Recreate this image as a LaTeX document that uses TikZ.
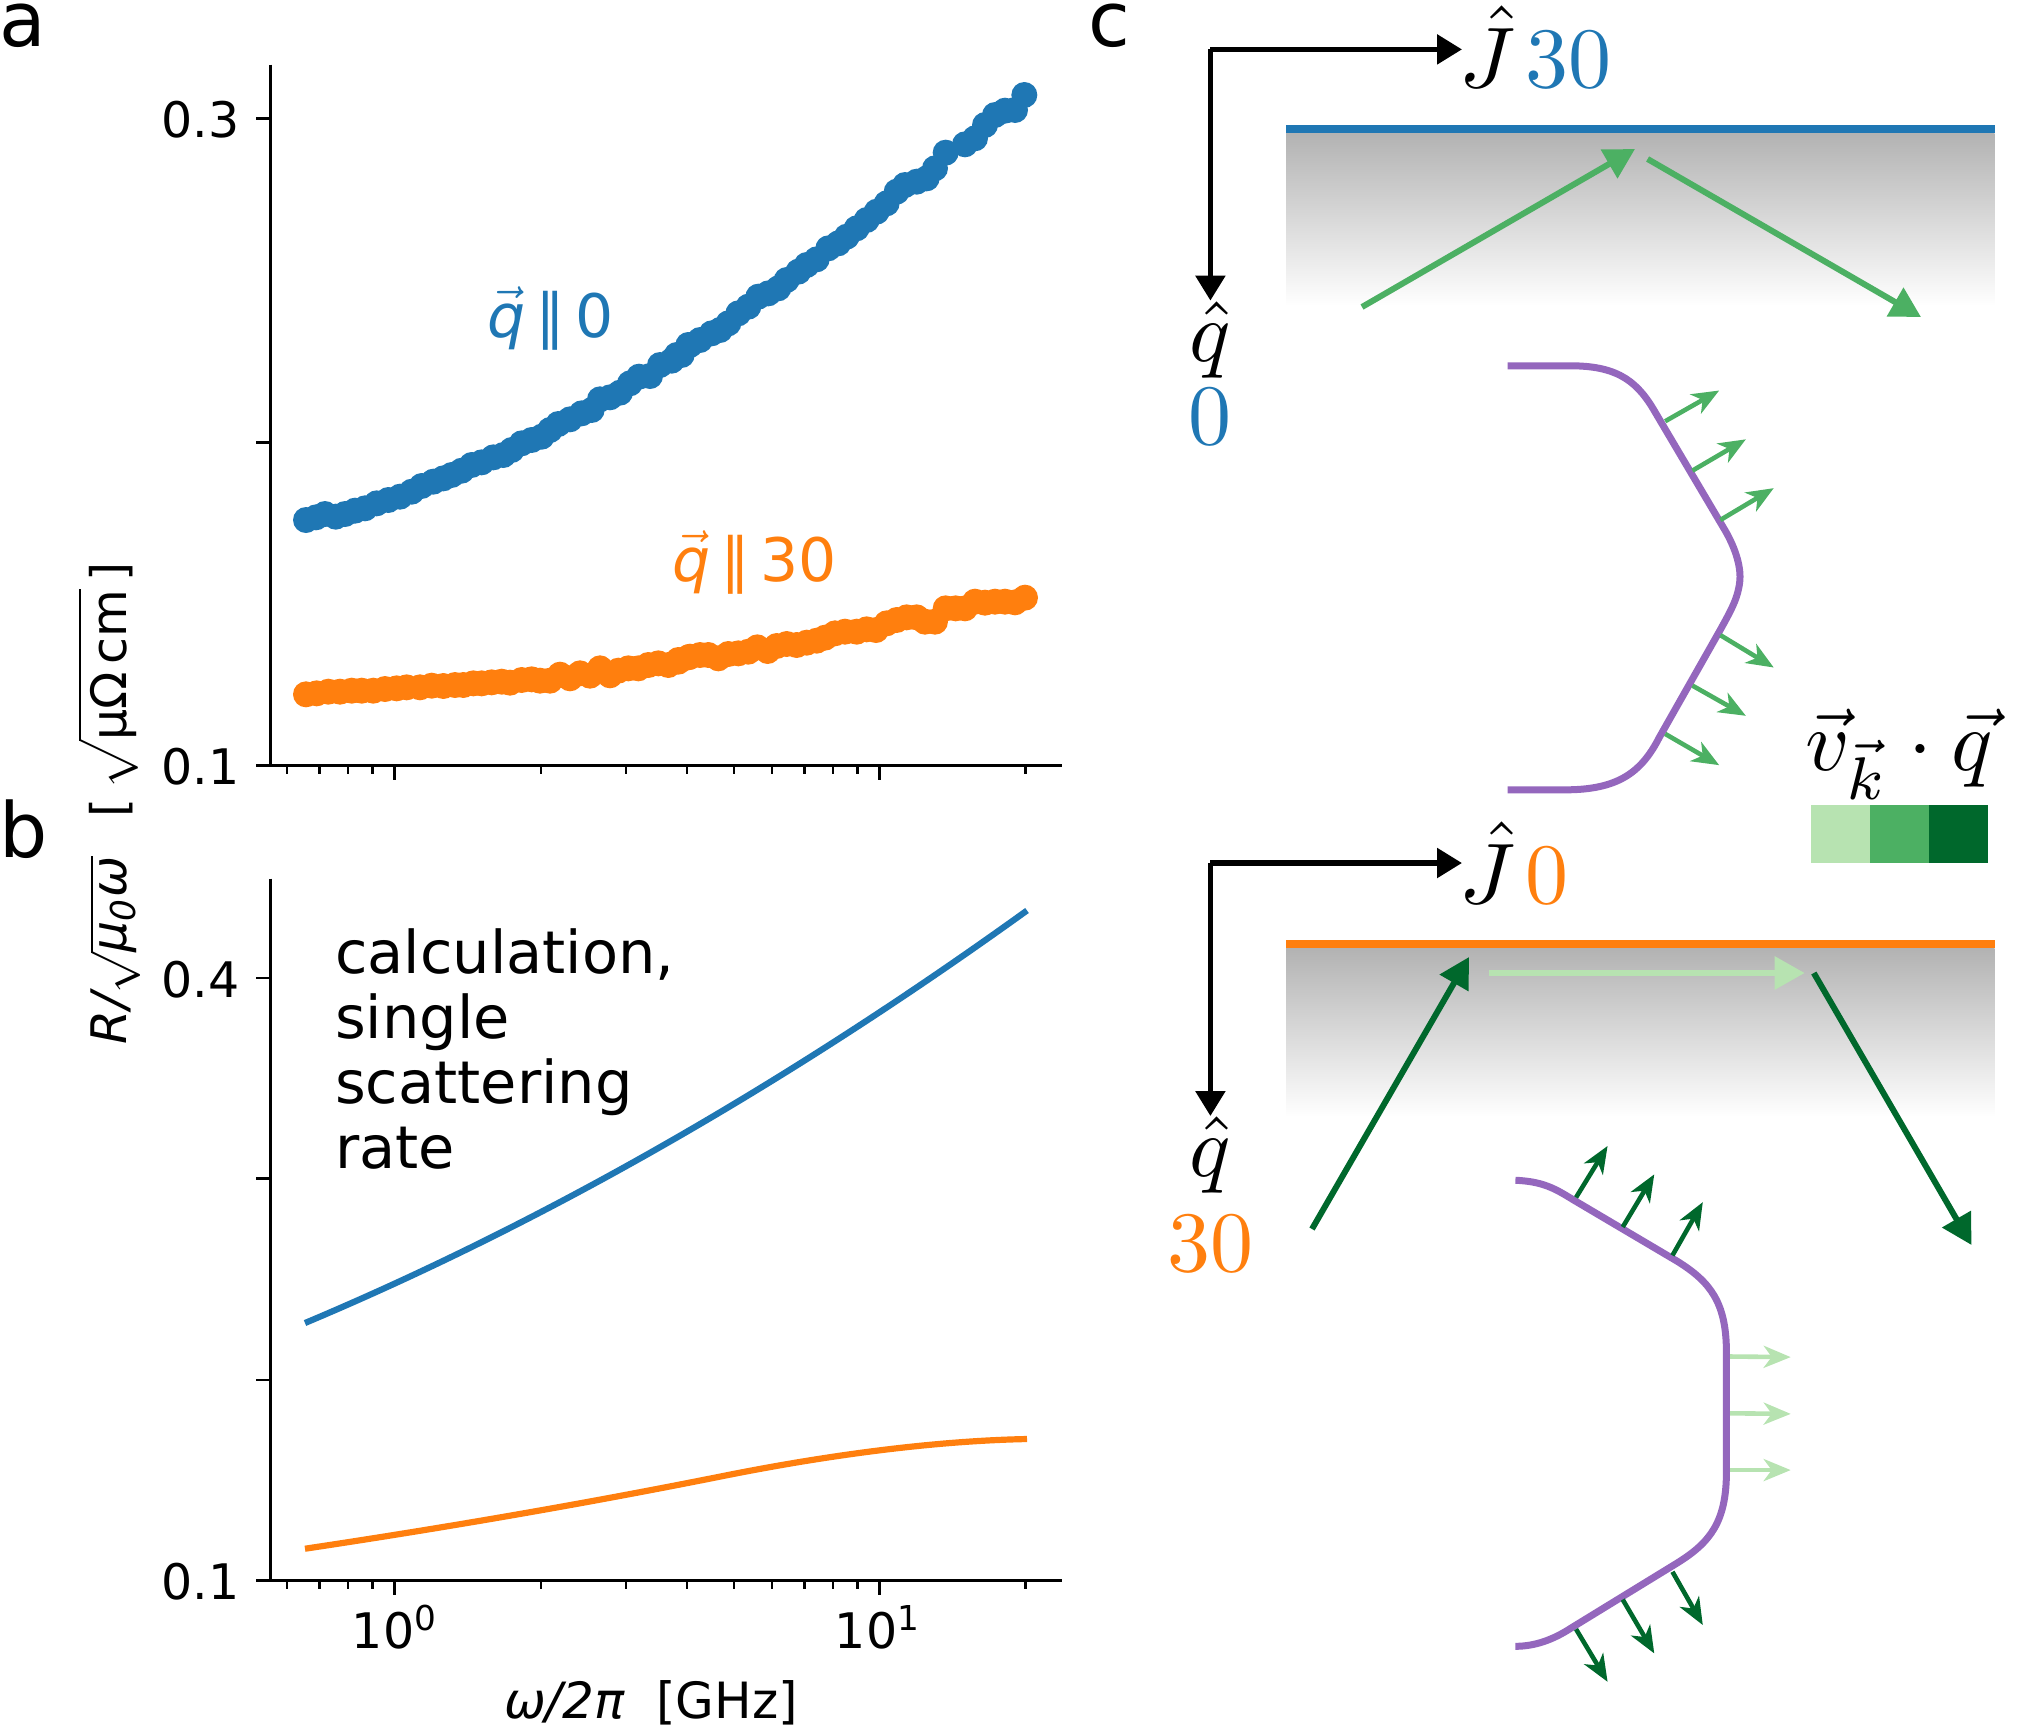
\documentclass[tikz,border=0pt]{standalone}
\usepackage[no-math]{fontspec}
\setmainfont{DejaVu Sans}
\usetikzlibrary{arrows.meta}
\definecolor{cblue}{HTML}{1F77B4}
\definecolor{corange}{HTML}{FF7F0E}
\definecolor{cpurple}{HTML}{9467BD}
\definecolor{glight}{HTML}{B7E3B1}
\definecolor{gmid}{HTML}{4CB063}
\definecolor{gdark}{HTML}{00682C}
\tikzset{
  axisline/.style={line width=2.8pt,black},
  tl/.style={inner sep=0pt,scale=4.9,font=\fontsize{10}{12}\selectfont},
  tlr/.style={tl,anchor=base east},
  panellabel/.style={inner sep=0pt,scale=7.6,anchor=base west,font=\fontsize{10}{12}\selectfont},
  cmtext/.style={inner sep=0pt,scale=8.6,font=\fontsize{10}{12}\selectfont},
  bigl/.style={inner sep=0pt,scale=5.9,font=\fontsize{10}{11.05}\selectfont},
  frameaxis/.style={line width=5.5pt,black,-{Triangle[length=25pt,width=29pt]}},
  bigarrow/.style={line width=6pt,-{Triangle[length=30pt,width=32pt]}},
  smallarrow/.style={line width=4.6pt,-{Stealth[length=27pt,width=22pt,inset=8pt]}},
  fermi/.style={line width=7pt,cpurple,line join=round},
  curveline/.style={line width=6.2pt},
}
\newcommand{\supdig}[1]{\raisebox{3.6pt}{\fontsize{7}{7}\selectfont #1}}
\begin{document}
\begin{tikzpicture}[x=1pt,y=-1pt]
\useasboundingbox (0,0) rectangle (2031,1727);

% panel letters
\node[panellabel] (la) at (-2,46.6) {a};
\node[panellabel] (lb) at (-2,857) {b};
\node[panellabel] (lc) at (1087,46.6) {c};

% axes a
\draw[axisline] (270.6,64.7) -- (270.6,765.8) -- (1062,765.8);
\foreach \yy in {118.5,442.7,765.8} \draw[axisline] (256,\yy) -- (270.6,\yy);
% axes b
\draw[axisline] (270.6,878.6) -- (270.6,1580.6) -- (1062,1580.6);
\foreach \yy in {978,1178.5,1380,1580.6} \draw[axisline] (256,\yy) -- (270.6,\yy);
\foreach \yb in {765.8,1580.6}{
  \foreach \xx in {394.6,879.5} \draw[axisline] (\xx,\yb) -- (\xx,\yb+14);
  \foreach \xx in {287,319.5,347.6,372.4,540.6,626,686.6,733.6,772,804.5,832.6,857.4,1025.5}
    \draw[line width=2.2pt] (\xx,\yb) -- (\xx,\yb+8);
}
\node[tlr] (t03) at (240.5,137) {0.3};
\node[tlr] (t01a) at (240.5,784) {0.1};
\node[tlr] (t04) at (240.5,997) {0.4};
\node[tlr] (t01b) at (240.5,1599.5) {0.1};
\node[tl,anchor=base] (x0) at (394,1648.6) {10\supdig{0}};
\node[tl,anchor=base] (x1) at (877,1648.6) {10\supdig{1}};
\node[tl,anchor=base,scale=1.02] (xl) at (651,1718) {{\itshape ω/2π}\ \ [GHz]};
\node[tl,anchor=base west,rotate=90] (yl1) at (126.5,1045) {{\itshape R/}$\sqrt{\mbox{\itshape μ\textsubscript{0}ω}}$};
\node[tl,anchor=base west,rotate=90] (yl2) at (126.5,818) {[\,$\sqrt{\rule{0pt}{8.5pt}\mbox{μΩ\,cm}}$\,]};

% data a
\foreach \a/\b in {48/600,78/592,105/582,137/590,165/582,195/572,225/565,260/550,295/540,330/530,365/515,395/498,430/485,460/475,485/465,515/452,545/435,575/427,610/412,640/405,665/390,695/370,725/360,755/350,780/330,805/312,840/298,875/280,905/270,930/238,960/232,990/218,1020/190,1047/170,1080/168,1110/135,1145/122,1175/105,1200/75}
  \fill[cblue] (290+\a/3,320+\b/3) circle (13);
\foreach \a/\b in {20/855,55/825,90/810,125/790,150/780,175/760,205/730,235/710,265/680,295/670,325/655,350/630,385/605,410/585,440/568,475/535,505/520,530/500,560/475,590/450,620/425,650/400,680/365,705/345,740/335,770/325,795/295,827/248,885/223,915/205,945/165,975/135,1005/122,1035/120,1063/75}
  \fill[cblue] (670+\a/3,70+\b/3) circle (13);
\foreach \a/\b in {48/283,80/280,115/275,150/275,185/272,215/272,250/272,285/267,320/265,350/262,390/262,425/257,460/258,495/255,520/255,550/250,575/250,605/247,635/245,660/248,695/240,725/238,750/242,780/242,810/224,840/235,870/220,900/227,930/205,960/226,985/212,1015/205,1045/205,1075/195,1105/190,1135/195,1165/180,1200/170}
  \fill[corange] (290+\a/3,600+\b/3) circle (13);
\foreach \a/\b in {25/275,55/262,90/255,115/255,145/265,175/252,205/250,235/245,262/232,293/243,320/228,350/222,380/225,410/218,440/212,465/203,495/190,525/185,560/185,590/178,618/180,650/160,680/150,710/142,740/142,765/155,795/155,827/115,857/115,885/115,915/95,945/98,975/95,1005/95,1035/97,1065/83}
  \fill[corange] (670+\a/3,570+\b/3) circle (13);
\node[inner sep=0pt,scale=6,font=\fontsize{10}{12}\selectfont,text=cblue,anchor=base west] (qb) at (486,337) {$\vec{\mbox{\itshape q}}$\,∥\,0};
\node[inner sep=0pt,scale=6,font=\fontsize{10}{12}\selectfont,text=corange,anchor=base west] (qo) at (671,581) {$\vec{\mbox{\itshape q}}$\,∥\,30};

% data b
\draw[cblue,curveline] (305,1323) .. controls (545,1222) and (786,1084) .. (1027,910.5);
\draw[corange,curveline] (305,1548.7) .. controls (445,1527.7) and (583,1504) .. (723,1476) .. controls (823,1456) and (930,1441) .. (1027,1439);
\node[bigl,align=left,anchor=north west] (calc) at (334,927) {calculation,\\single\\scattering\\rate};

% panel c, top
\coordinate (c1) at (1210.4,49.4);
\coordinate (c1j) at (1462,49.4);
\coordinate (c1q) at (1210.4,300.6);
\draw[frameaxis] (c1) -- (c1j);
\draw[frameaxis] (c1) -- (c1q);
\node[cmtext,anchor=base west] (J1) at (1458,87) {$\hat J$};
\node[cmtext,anchor=base west,text=cblue] (n30a) at (1524,87.8) {$\mathrm{30}$};
\node[cmtext,anchor=base] (q1) at (1210,361) {$\hat q$};
\node[cmtext,anchor=base,text=cblue] (n0a) at (1210,444) {$\mathrm{0}$};
\shade[top color=black!30,bottom color=white] (1286,133) rectangle (1994.5,306);
\fill[cblue] (1286,125) rectangle (1994.5,133);
\coordinate (a1s) at (1362,307); \coordinate (a1e) at (1635,149);
\coordinate (a2s) at (1647.6,159); \coordinate (a2e) at (1921,317);
\draw[gmid,bigarrow] (a1s) -- (a1e);
\draw[gmid,bigarrow] (a2s) -- (a2e);
\begin{scope}[shift={(1080,0)},xscale=0.6064,yscale=0.5485]
\draw[fermi] (705,667) -- (800,667) .. controls (880,665) and (915,690) .. (945,745) -- (1060,960) .. controls (1085,1005) and (1090,1040) .. (1088,1060) .. controls (1085,1090) and (1075,1110) .. (1055,1150) -- (955,1345) .. controls (925,1410) and (885,1440) .. (800,1440) -- (705,1440);
\foreach \a/\b/\c/\d in {965/768/1054/712,1010/858/1098/801,1056/948/1144/890,1056/1158/1144/1217,1010/1250/1098/1305,965/1338/1054/1395}
  \draw[gmid,smallarrow] (\a,\b) -- (\c,\d);
\end{scope}

% colour bar
\fill[glight] (1810.8,805) rectangle (1870,863);
\fill[gmid] (1870,805) rectangle (1929,863);
\fill[gdark] (1929,805) rectangle (1987.8,863);
\node[cmtext,anchor=base] (vq) at (1899,770) {$\vec v_{\vec k}\cdot\vec q$};

% panel c, bottom
\coordinate (c2) at (1210.4,863);
\coordinate (c2j) at (1462,863);
\coordinate (c2q) at (1210.4,1116);
\draw[frameaxis] (c2) -- (c2j);
\draw[frameaxis] (c2) -- (c2q);
\node[cmtext,anchor=base west] (J2) at (1458,903) {$\hat J$};
\node[cmtext,anchor=base west,text=corange] (n0b) at (1524,903.5) {$\mathrm{0}$};
\node[cmtext,anchor=base] (q2) at (1210,1176) {$\hat q$};
\node[cmtext,anchor=base,text=corange] (n30b) at (1210,1271) {$\mathrm{30}$};
\shade[top color=black!30,bottom color=white] (1286,948) rectangle (1994.5,1117);
\fill[corange] (1286,940) rectangle (1994.5,948);
\coordinate (b1s) at (1312,1229); \coordinate (b1e) at (1469,957);
\coordinate (b2s) at (1489,973); \coordinate (b2e) at (1804.7,973);
\coordinate (b3s) at (1813.8,973); \coordinate (b3e) at (1971.5,1245);
\draw[gdark,bigarrow] (b1s) -- (b1e);
\draw[glight,bigarrow] (b2s) -- (b2e);
\draw[gdark,bigarrow] (b3s) -- (b3e);
\begin{scope}[shift={(1080,800)},xscale=0.6064,yscale=0.5914]
\draw[fermi] (718,643) .. controls (770,645) and (790,662) .. (820,680) -- (985,780) .. controls (1040,815) and (1065,850) .. (1066,930) -- (1066,1140) .. controls (1065,1220) and (1040,1255) .. (985,1290) -- (810,1400) .. controls (780,1420) and (750,1431) .. (718,1431);
\foreach \a/\b/\c/\d in {818/672/870/585,895/722/947/633,977/770/1027/680,977/1305/1027/1395,895/1352/947/1443,818/1402/870/1491}
  \draw[gdark,smallarrow] (\a,\b) -- (\c,\d);
\foreach \a/\b/\c/\d in {1072/941/1172/942,1072/1037/1172/1038,1072/1133/1172/1133}
  \draw[glight,smallarrow] (\a,\b) -- (\c,\d);
\end{scope}
\end{tikzpicture}
\end{document}
